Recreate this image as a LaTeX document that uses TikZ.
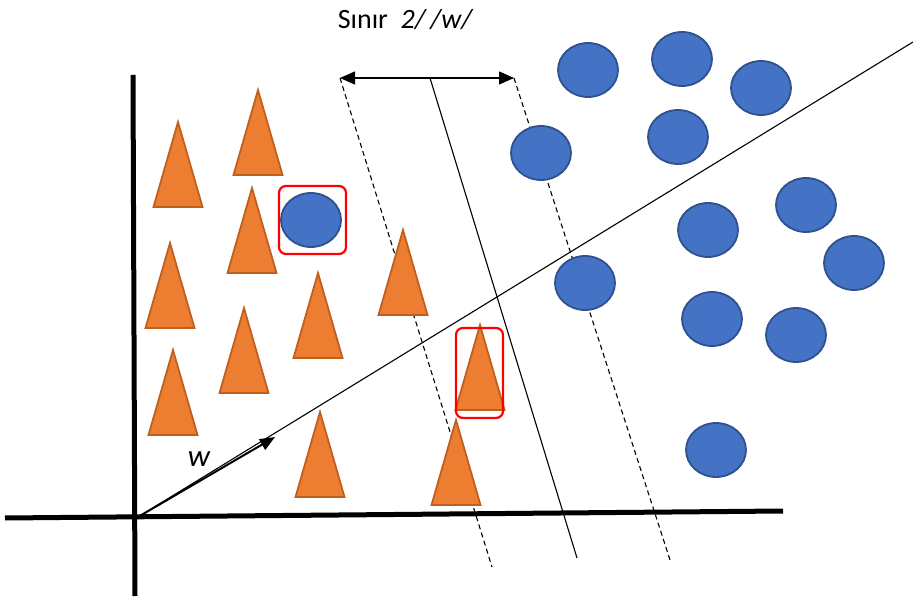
\documentclass[tikz,border=0pt]{standalone}
\usepackage{fontspec}
\setmainfont{Carlito}
\usepackage{tikz}
\usetikzlibrary{arrows.meta,shapes.geometric}
\definecolor{koni}{HTML}{ED7D31}
\definecolor{konikenar}{HTML}{C0601F}
\definecolor{top}{HTML}{4472C4}
\definecolor{topkenar}{HTML}{2F528F}

\begin{document}
\begin{tikzpicture}[x=1pt,y=-1pt,
  eksen/.style={line width=5pt, black},
  ince/.style={line width=1.1pt, black},
  kesik/.style={ince, dash pattern=on 5pt off 3.5pt},
  topnode/.style={ellipse, draw=topkenar, line width=1.8pt, fill=top, minimum width=60pt, minimum height=54pt, inner sep=0pt},
  koninode/.style={draw=konikenar, line width=1.8pt, fill=koni, line join=miter},
  secili/.style={draw=red, line width=2.2pt, rounded corners=7pt, fill=none},
  etiket/.style={font=\fontsize{28}{30}\selectfont, inner sep=0pt}]
  \useasboundingbox (0,0) rectangle (913,601);
  % axes
  \coordinate (O) at (138,517);
  \draw[eksen] (5,518) -- (783,511);
  \draw[eksen] (133,75) -- (135,596);
  % separating lines
  \coordinate (U) at (913,42);
  \draw[ince] (O) -- (U);
  \coordinate (ma) at (430,78);
  \coordinate (mb) at (577,558);
  \coordinate (la) at (340,78);
  \coordinate (lb) at (492,567);
  \coordinate (ra) at (514,78);
  \coordinate (rb) at (670,560);
  \draw[ince] (ma) -- (mb);
  \draw[kesik] (la) -- (lb);
  \draw[kesik] (ra) -- (rb);
  \draw[ince, {Triangle[length=15pt,width=13pt]}-{Triangle[length=15pt,width=13pt]}] (la) -- (ra);
  % w
  \coordinate (W) at (275,437);
  \draw[line width=2pt, -{Triangle[length=15pt,width=12pt]}] (O) -- (W);
  \node[etiket, font=\fontsize{31}{33}\selectfont\itshape] (wlab) at (199,459) {w};
  \node[etiket] (baslik) at (405,20) {Sınır\ \ {\itshape 2/\,/w/}};
  % triangles (apex)
  \foreach \x/\y [count=\i] in {178/122, 258/90, 252/188, 170/243, 403/230, 318/273, 244/308, 173/350, 480/325, 320/412, 456/420}
    \draw[koninode] (\x,\y) coordinate (k\i) -- ++(24.5,85) -- ++(-49,0) -- cycle;
  % circles
  \foreach \x/\y [count=\i] in {588/70, 682/59, 761/88, 541/153, 678/137, 311/220, 806/205, 708/230, 854/263, 585/283, 712/319, 796/335, 716/450}
    \node[topnode] (t\i) at (\x,\y) {};
  % marked ones
  \draw[secili] (279,186) rectangle (346,254);
  \draw[secili] (456,328) rectangle (503,418);
\end{tikzpicture}
\end{document}
